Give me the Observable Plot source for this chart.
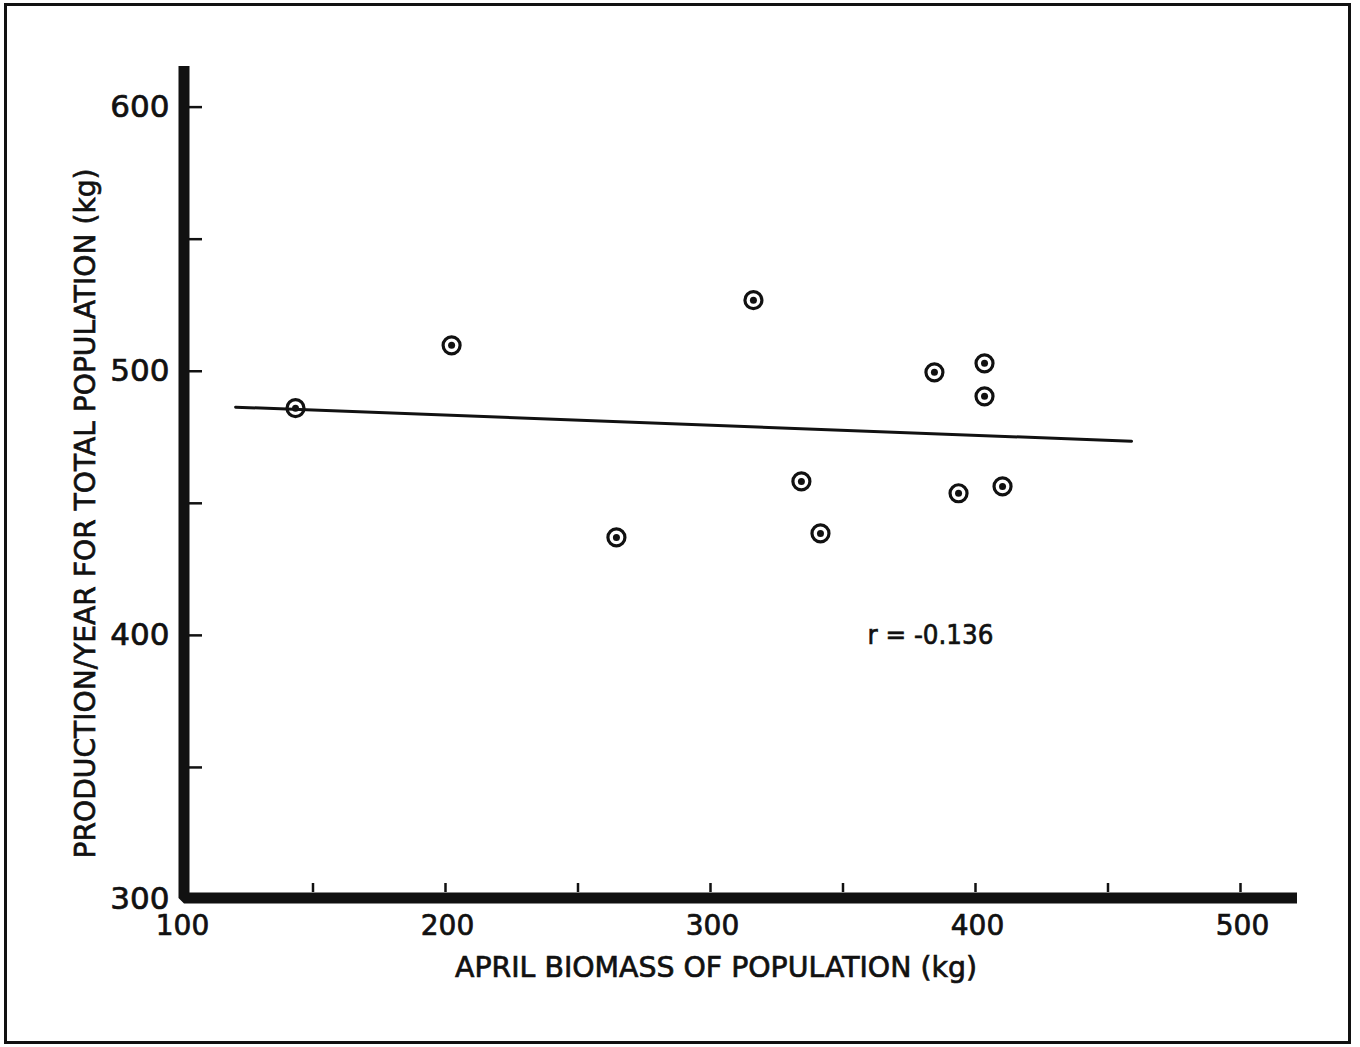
<!DOCTYPE html>
<html><head><meta charset="utf-8">
<script src="https://cdn.jsdelivr.net/npm/d3@7"></script>
<script src="https://cdn.jsdelivr.net/npm/@observablehq/plot@0.6"></script>
<style>
html,body{margin:0;padding:0;background:#fff;}
#wrap{position:relative;width:1360px;height:1047px;overflow:hidden;}
#border{position:absolute;left:4px;top:3px;width:1347px;height:1041px;border:3px solid #111;box-sizing:border-box;pointer-events:none;}
</style></head>
<body><div id="wrap"><div id="chart"></div><div id="border"></div></div>
<script>
// Data
const biomass    = [143.4, 202.3, 264.5, 316.2, 334.3, 341.5, 384.5, 393.6, 403.4, 403.4, 410.2];
const production = [486.0, 509.8, 437.1, 526.9, 458.3, 438.6, 499.6, 453.8, 503.0, 490.5, 456.4];
const fitX = [120.8, 458.9];
const fitY = [486.4, 473.5];
const xLabelTicks = [100, 200, 300, 400, 500];
const yLabelTicks = [300, 400, 500, 600];
const xMinorTicks = [150, 200, 250, 300, 350, 400, 450, 500];
const yMinorTicks = [350, 400, 450, 500, 550, 600];
const xDomain = [100, 520];
const yDomain = [300, 615];
const xTitle = "APRIL BIOMASS OF POPULATION (kg)";
const yTitle = "PRODUCTION/YEAR FOR TOTAL POPULATION (kg)";
const rText = "r = -0.136";
const rPos = {x: 383, y: 400};

const points = biomass.map((b, i) => ({x: b, y: production[i]}));
const fit = fitX.map((v, i) => ({x: v, y: fitY[i]}));
const axisPath = [
  {x: xDomain[0], y: yDomain[1]},
  {x: xDomain[0], y: yDomain[0]},
  {x: xDomain[1], y: yDomain[0]}
];

const ink = "#111";
const chart = Plot.plot({
  width: 1360,
  height: 1047,
  marginLeft: 180,
  marginRight: 67,
  marginTop: 67,
  marginBottom: 148,
  style: {fontFamily: "DejaVu Sans", color: ink, background: "transparent"},
  x: {domain: xDomain},
  y: {domain: yDomain},
  marks: [
    Plot.axisX(xLabelTicks, {tickSize: 0, tickPadding: 16, fontSize: 28, label: null, fill: ink, dx: 2}),
    Plot.axisY(yLabelTicks, {tickSize: 0, tickPadding: 11, fontSize: 31, label: null, fill: ink}),
    Plot.ruleY(yMinorTicks, {x1: xDomain[0], x2: xDomain[0], insetLeft: 9, insetRight: -22, stroke: ink, strokeWidth: 2.5}),
    Plot.ruleX(xMinorTicks, {y1: yDomain[0], y2: yDomain[0], insetTop: -7, insetBottom: 16, stroke: ink, strokeWidth: 2.5}),
    Plot.line(axisPath, {x: "x", y: "y", stroke: ink, strokeWidth: 11, strokeLinejoin: "miter", strokeLinecap: "butt", dx: 3.5, dy: -1.5}),
    Plot.line(fit, {x: "x", y: "y", stroke: ink, strokeWidth: 3}),
    Plot.dot(points, {x: "x", y: "y", r: 8.5, stroke: ink, strokeWidth: 3.2, fill: "none"}),
    Plot.dot(points, {x: "x", y: "y", r: 3.5, fill: ink, stroke: "none"}),
    Plot.text([rText], {x: () => rPos.x, y: () => rPos.y, text: d => d, fontSize: 27, fill: ink}),
    Plot.text([xTitle], {frameAnchor: "bottom", text: d => d, textAnchor: "middle", lineAnchor: "middle", dx: -21, dy: 68, fontSize: 29, fill: ink}),
    Plot.text([yTitle], {frameAnchor: "left", text: d => d, textAnchor: "middle", lineAnchor: "middle", rotate: -90, dx: -95, dy: 30, fontSize: 29, fill: ink})
  ]
});
document.getElementById("chart").appendChild(chart);

// fit the titles to the lengths they occupy in the reference, and thicken glyphs a bit
const svg = d3.select(chart);
svg.selectAll("text").each(function() {
  const t = this.textContent;
  const s = d3.select(this);
  if (t === xTitle) s.attr("textLength", 522).attr("lengthAdjust", "spacingAndGlyphs");
  if (t === yTitle) s.attr("textLength", 690).attr("lengthAdjust", "spacingAndGlyphs");
  if (t === rText) s.attr("textLength", 126).attr("lengthAdjust", "spacingAndGlyphs");
});
svg.selectAll("text").attr("stroke", ink).attr("stroke-width", 0.7);
</script>
</body></html>
